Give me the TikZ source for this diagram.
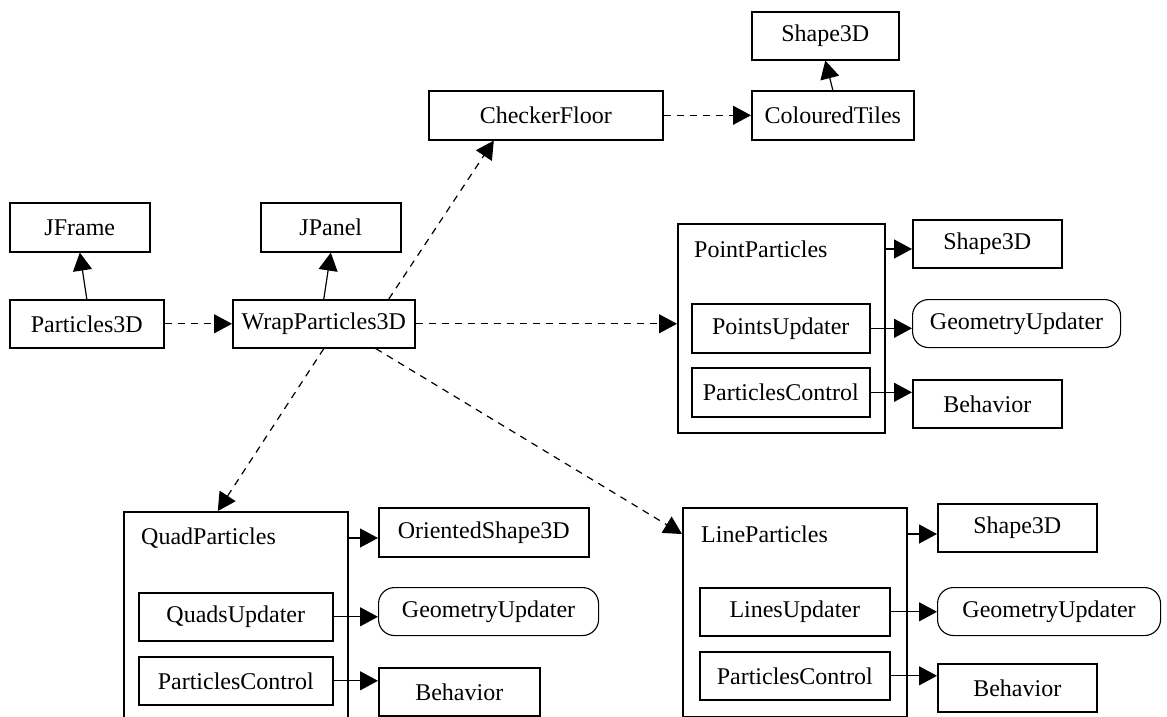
\documentclass[tikz,border=0pt]{standalone}
\usepackage{fontspec}
\setmainfont{Liberation Serif}
\usetikzlibrary{arrows.meta,positioning}

\begin{document}
\begin{tikzpicture}[
    x=1pt, y=-1pt,
    font=\fontsize{24}{28}\selectfont,
    cls/.style={draw, line width=1.6pt, anchor=north west, inner sep=0pt,
                minimum height=49pt},
    updr/.style={cls, line width=1.1pt, rounded corners=16pt},
    grp/.style={draw, line width=1.6pt, anchor=north west, inner sep=0pt},
    ttl/.style={anchor=west, inner sep=0pt},
    use/.style={draw, line width=1.2pt, -{Triangle[length=18pt,width=19pt]}},
    dep/.style={use, dash pattern=on 7pt off 6pt}]

  \clip (0,0) rectangle (1167,717);

  % top row
  \node[cls, minimum width=147pt, minimum height=48pt] (tshape) at (751,11) {Shape3D};
  \node[cls, minimum width=234pt] (checker) at (428,90) {CheckerFloor};
  \node[cls, minimum width=162pt] (tiles) at (751,90) {ColouredTiles};

  \node[cls, minimum width=140pt] (jframe) at (9,202) {JFrame};
  \node[cls, minimum width=140pt] (jpanel) at (260,202) {JPanel};
  \node[cls, minimum width=154pt, minimum height=48pt] (p3d) at (9,299) {Particles3D};
  \node[cls, minimum width=182pt, minimum height=48pt] (wrap) at (232,299) {WrapParticles3D};

  % point particles
  \node[grp, minimum width=207pt, minimum height=209pt] (pp) at (677,223) {};
  \node[ttl] (ppName) at (694,249) {PointParticles};
  \node[cls, minimum width=178pt] (ppUpd) at (691,303) {PointsUpdater};
  \node[cls, minimum width=178pt] (ppCtrl) at (691,367) {ParticlesControl};
  \node[cls, minimum width=149pt, minimum height=48pt] (ppShape) at (912,219) {Shape3D};
  \node[updr, minimum width=208pt, minimum height=48pt] (ppGeom) at (912,299) {GeometryUpdater};
  \node[cls, minimum width=149pt, minimum height=48pt] (ppBeh) at (912,379) {Behavior};

  % quad particles
  \node[grp, minimum width=224pt, minimum height=220pt] (qp) at (123,511) {};
  \node[ttl] (qpName) at (141,538) {QuadParticles};
  \node[cls, minimum width=194pt, minimum height=48pt] (qpUpd) at (138,592) {QuadsUpdater};
  \node[cls, minimum width=194pt, minimum height=48pt] (qpCtrl) at (138,656) {ParticlesControl};
  \node[cls, minimum width=210pt] (qpShape) at (378,507) {OrientedShape3D};
  \node[updr, minimum width=220pt, minimum height=48pt] (qpGeom) at (378,587) {GeometryUpdater};
  \node[cls, minimum width=161pt, minimum height=48pt] (qpBeh) at (378,667) {Behavior};

  % line particles
  \node[grp, minimum width=224pt, minimum height=209pt] (lp) at (682,507) {};
  \node[ttl] (lpName) at (701,534) {LineParticles};
  \node[cls, minimum width=190pt, minimum height=48pt] (lpUpd) at (699,587) {LinesUpdater};
  \node[cls, minimum width=190pt, minimum height=48pt] (lpCtrl) at (699,651) {ParticlesControl};
  \node[cls, minimum width=159pt, minimum height=48pt] (lpShape) at (937,503) {Shape3D};
  \node[updr, minimum width=223pt, minimum height=48pt] (lpGeom) at (937,587) {GeometryUpdater};
  \node[cls, minimum width=159pt, minimum height=48pt] (lpBeh) at (937,663) {Behavior};

  % inheritance
  \draw[use] (p3d.north) -- (jframe.south);
  \draw[use] (wrap.north) -- (jpanel.south);
  \draw[use] (tiles.north) -- (tshape.south);
  \draw[use] (pp.east |- ppName) -- (ppShape.west |- ppName);
  \draw[use] (ppUpd.east) -- (ppUpd.east -| ppGeom.west);
  \draw[use] (ppCtrl.east) -- (ppCtrl.east -| ppBeh.west);
  \draw[use] (qp.east |- qpName) -- (qpShape.west |- qpName);
  \draw[use] (qpUpd.east) -- (qpUpd.east -| qpGeom.west);
  \draw[use] (qpCtrl.east) -- (qpCtrl.east -| qpBeh.west);
  \draw[use] (lp.east |- lpName) -- (lpShape.west |- lpName);
  \draw[use] (lpUpd.east) -- (lpUpd.east -| lpGeom.west);
  \draw[use] (lpCtrl.east) -- (lpCtrl.east -| lpBeh.west);

  % dependencies
  \draw[dep] (p3d.east) -- (wrap.west);
  \draw[dep] (checker.east) -- (tiles.west);
  \draw[dep] ([xshift=65pt]wrap.north) -- ([xshift=-52pt]checker.south);
  \draw[dep] (wrap.east) -- (wrap.east -| pp.west);
  \draw[dep] (wrap.south) -- ([xshift=-18pt]qp.north);
  \draw[dep] ([xshift=52pt]wrap.south) -- (lp.west |- lpName);
\end{tikzpicture}
\end{document}
